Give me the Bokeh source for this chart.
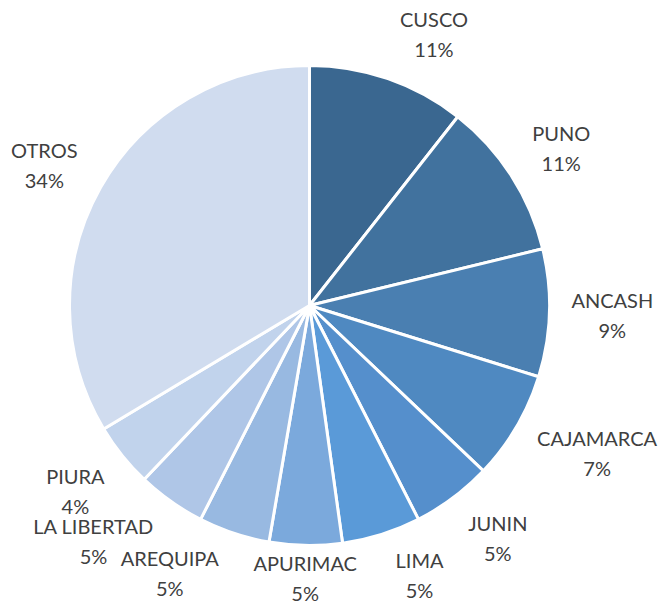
import math
from bokeh.plotting import figure
from bokeh.models import ColumnDataSource, Range1d
from bokeh.core.properties import value
from bokeh.embed import file_html
from bokeh.resources import INLINE

# ---- data ----
regions = ["CUSCO", "PUNO", "ANCASH", "CAJAMARCA", "JUNIN", "LIMA",
           "APURIMAC", "AREQUIPA", "LA LIBERTAD", "PIURA", "OTROS"]
shares = [10.6, 10.6, 8.6, 7.3, 5.4, 5.3, 4.9, 4.8, 4.6, 4.3, 33.6]
colors = ["#3A6790", "#41729E", "#4A7FB1", "#4F89C1", "#558FCC", "#5A9AD8",
          "#7BA9DC", "#98B9E1", "#AFC6E7", "#C1D3EC", "#D0DCEF"]

# ---- label layout tweaks (angle nudge in degrees, radius in px) ----
label_dtheta = [5.7, 1.0, 0.3, -3.0, -2.0, -4.6, 0.0, 9.0, 7.0, 0.0, -2.0]
label_r = [297, 296, 303, 324, 301, 293, 275, 304, 321, 300, 299]

W, H = 663, 607
cx, cy = 309, 302
R = 240

total = sum(shares)
starts, ends, mids = [], [], []
cum = 0.0
for s in shares:
    a0 = cum / total
    cum += s
    a1 = cum / total
    starts.append(math.pi / 2 - 2 * math.pi * a0)
    ends.append(math.pi / 2 - 2 * math.pi * a1)
    mids.append(360.0 * (a0 + a1) / 2)

src = ColumnDataSource(dict(start=starts, end=ends, color=colors, region=regions))

p = figure(width=W, height=H, output_backend="svg", toolbar_location=None,
           x_axis_type=None, y_axis_type=None, min_border=0,
           x_range=Range1d(0, W), y_range=Range1d(0, H))
p.outline_line_color = None
p.xgrid.visible = False
p.ygrid.visible = False
p.background_fill_color = "white"

p.wedge(x=cx, y=cy, radius=R, start_angle="start", end_angle="end",
        direction="clock", fill_color="color", line_color="white",
        line_width=3, source=src)

lx, ly_name, ly_pct, names, pcts = [], [], [], [], []
for i, reg in enumerate(regions):
    th = math.radians(mids[i] + label_dtheta[i])
    x = cx + label_r[i] * math.sin(th)
    y = cy + label_r[i] * math.cos(th)
    lx.append(x)
    ly_name.append(y + 17)
    ly_pct.append(y - 13)
    names.append(reg)
    pcts.append(f"{int(shares[i] / total * 100 + 0.5)}%")

lsrc = ColumnDataSource(dict(x=lx, yn=ly_name, yp=ly_pct, name=names, pct=pcts))
for col, ycol in (("name", "yn"), ("pct", "yp")):
    p.text(x="x", y=ycol, text=col, source=lsrc, text_align="center",
           text_baseline="middle", text_font=value("Lato"),
           text_font_size="20px", text_color="#404040")

with open("out.html", "w") as f:
    f.write(file_html(p, INLINE))
